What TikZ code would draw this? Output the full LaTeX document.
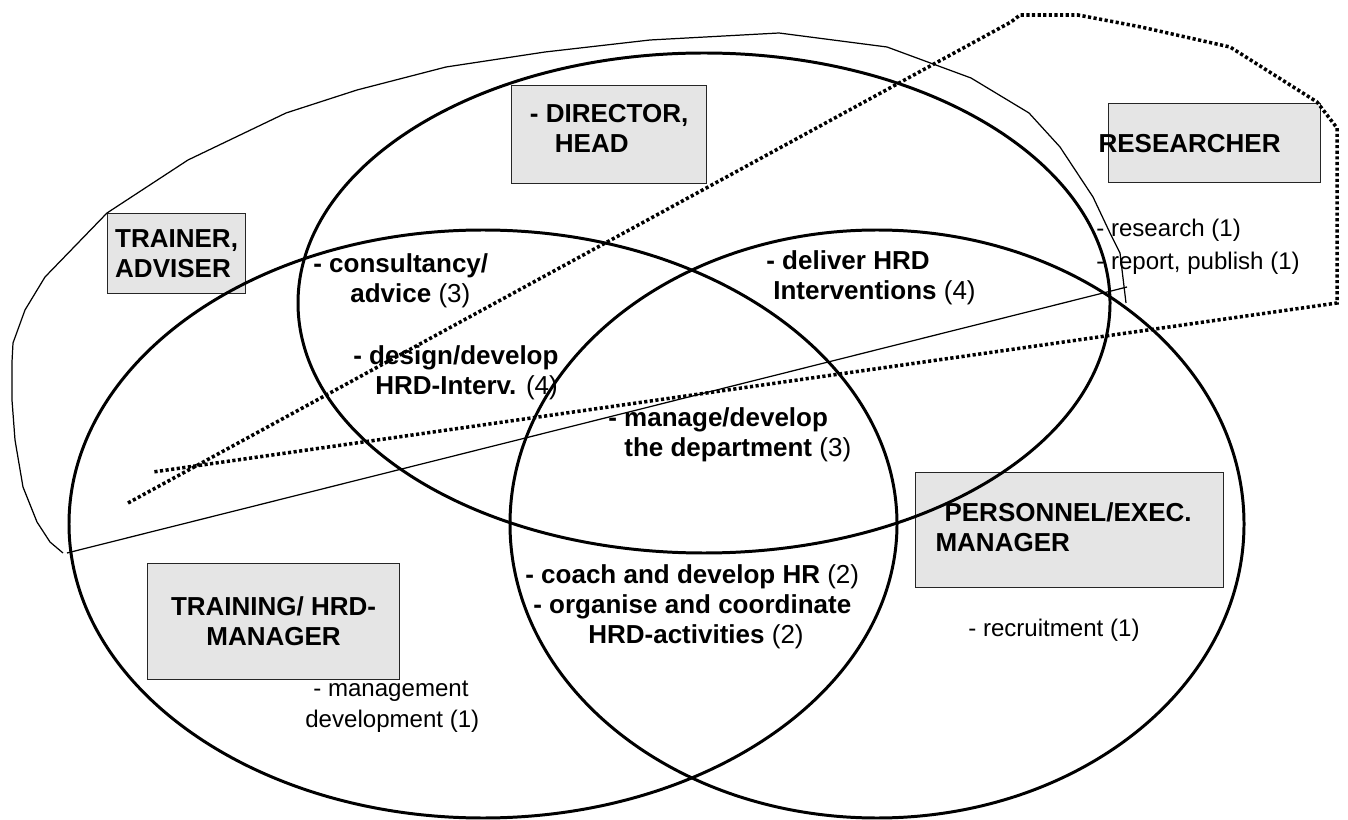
\documentclass[tikz,border=0pt]{standalone}
\usepackage{fontspec}
\setmainfont{Liberation Sans}
\usetikzlibrary{positioning}
\definecolor{boxgray}{RGB}{229,229,229}

\begin{document}
\begin{tikzpicture}[x=0.02cm,y=-0.02cm,
    role/.style={draw=black!85,fill=boxgray,line width=0.7pt,inner sep=0,anchor=north west},
    rolename/.style={font=\bfseries\fontsize{14.8}{17}\selectfont,align=left,inner sep=0},
    task/.style={font=\bfseries\fontsize{14.8}{17}\selectfont,align=left,inner sep=0,anchor=west},
    extra/.style={font=\fontsize{13.7}{17.5}\selectfont,align=left,inner sep=0,anchor=west},
    venn/.style={line width=1.7pt},
    hull/.style={line width=0.7pt,line join=round},
    dots/.style={line width=2pt,dash pattern=on 1.8pt off 1.4pt}]
    \useasboundingbox (0,0) rectangle (1348,820);

    % role boxes (under the circles)
    \node[role,minimum width=3.9cm,minimum height=1.96cm] (dirbox) at (511,85) {};
    \node[role,minimum width=4.24cm,minimum height=1.58cm] (resbox) at (1108,103) {};
    \node[role,minimum width=2.76cm,minimum height=1.6cm] (trnbox) at (107,213) {};
    \node[role,minimum width=5.04cm,minimum height=2.32cm] (hrdbox) at (147,563) {};
    \node[role,minimum width=6.16cm,minimum height=2.3cm] (perbox) at (915,472) {};

    % the three circles
    \draw[venn] (704,303) ellipse [x radius=406, y radius=250];
    \draw[venn] (483,524) ellipse [x radius=414, y radius=294];
    \draw[venn] (877,524) ellipse [x radius=367, y radius=294];

    % thin outline and dotted outline
    \draw[hull] (67,553) -- (1127,287);
    \draw[hull] (63,553) -- (50,542) -- (37,522) -- (23,487) -- (15,440) -- (12,400)
        -- (12,362) -- (13,343) -- (25,310) -- (45,277) -- (107,213) -- (188,160)
        -- (286,113) -- (357,90) -- (446,67) -- (545,52) -- (650,40) -- (779,33)
        -- (887,47) -- (971,78) -- (1029,113) -- (1060,147) -- (1093,197)
        -- (1110,233) -- (1120,253) -- (1126,303);
    \draw[dots] (128,503) -- (1011,22) -- (1020,15) -- (1078,15) -- (1141,27)
        -- (1230,47) -- (1317,102) -- (1337,128) -- (1337,303) -- (153,472);

    % role names
    \node[rolename] (dir) at ([yshift=0.12cm]dirbox.center) {- DIRECTOR,\\\hspace*{0.5cm}HEAD};
    \node[rolename] (res) at ([xshift=-0.5cm]resbox.center) {RESEARCHER};
    \node[rolename] (trn) at (trnbox.center) {TRAINER,\\ADVISER};
    \node[rolename,align=center] (hrd) at (hrdbox.center) {TRAINING/ HRD-\\MANAGER};
    \node[rolename] (per) at ([xshift=-0.12cm,yshift=0.06cm]perbox.center) {\hspace*{0.18cm}PERSONNEL/EXEC.\\MANAGER};

    % tasks in the overlaps
    \node[task] (consult) at (313,281) {- consultancy/\\\hspace*{0.74cm}advice {\mdseries(3)}};
    \node[task] (design) at (353,373) {- design/develop\\\hspace*{0.44cm}HRD-Interv. {\mdseries(4)}};
    \node[task] (deliver) at (766,278) {- deliver HRD\\\hspace*{0.14cm}Interventions {\mdseries(4)}};
    \node[task] (manage) at (608,435) {- manage/develop\\\hspace*{0.32cm}the department {\mdseries(3)}};
    \node[task] (coach) at (525,607) {- coach and develop HR {\mdseries(2)}\\\hspace*{0.16cm}- organise and coordinate\\\hspace*{1.26cm}HRD-activities {\mdseries(2)}};

    % single-role tasks
    \node[extra,font=\fontsize{13.7}{18.6}\selectfont] (research) at (1096,247) {- research (1)\\- report, publish (1)};
    \node[extra] (recruit) at (968,630) {- recruitment (1)};
    \node[extra] (mgmt) at (305,707) {\hspace*{0.16cm}- management\\development (1)};
\end{tikzpicture}
\end{document}
